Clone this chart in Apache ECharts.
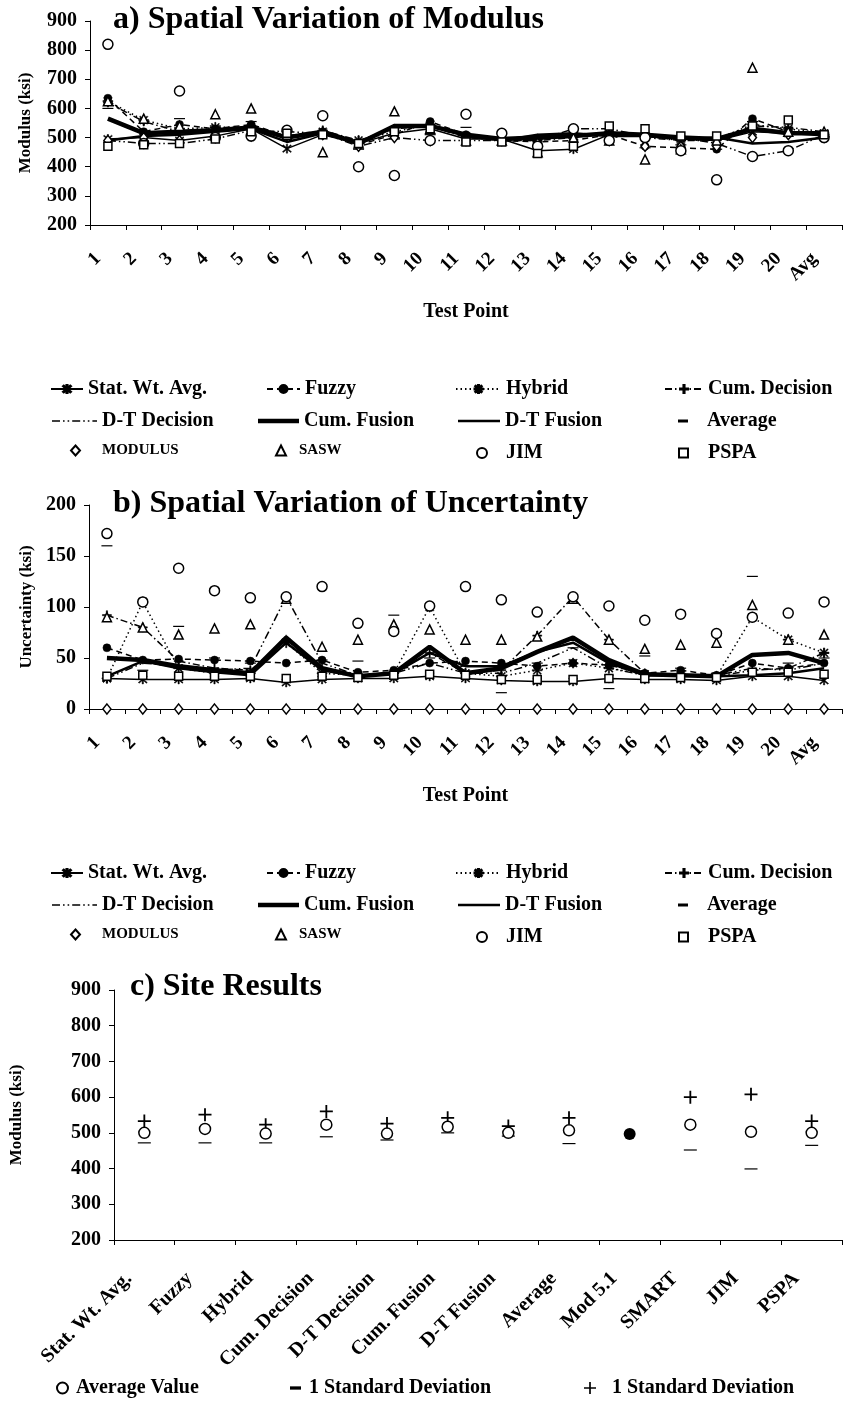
<!DOCTYPE html>
<html>
<head>
<meta charset="utf-8">
<title>Spatial Variation of Modulus / Uncertainty / Site Results</title>
<script src="https://cdn.jsdelivr.net/npm/echarts@6/dist/echarts.min.js"></script>
<style>
    html, body { margin: 0; padding: 0; background: #fff; }
    #chart { width: 843px; height: 1404px; }
</style>
</head>
<body>
<div id="chart"></div>

<script type="text/javascript">

    // ---- data ----
    var testPoints = ['1','2','3','4','5','6','7','8','9','10','11','12','13','14','15','16','17','18','19','20','Avg'];

    // a) modulus, ksi
    var modStat    = [495,500,490,505,530,462,510,480,515,530,495,495,455,460,510,505,495,490,520,515,505];
    var modFuzzy   = [635,520,545,530,545,505,520,475,510,555,510,490,485,490,510,470,465,460,565,520,510];
    var modHybrid  = [625,560,530,535,535,500,520,490,520,545,505,495,495,505,515,505,490,495,545,530,515];
    var modCumDec  = [620,555,520,525,540,505,525,490,530,540,500,490,490,500,520,500,490,490,540,535,520];
    var modDtDec   = [490,480,480,495,525,520,515,470,500,490,490,490,490,530,530,505,500,480,435,455,510];
    var modCumFus  = [565,515,520,525,535,500,520,480,540,540,510,495,500,505,515,510,500,495,530,515,515];
    var modDtFus   = [490,505,510,520,530,485,515,485,535,540,505,490,510,515,505,505,495,500,480,485,500];
    var modAvg     = [600,520,565,540,555,520,510,460,495,510,535,500,470,510,515,465,475,460,555,515,510];
    var modModulus = [490,500,490,500,505,520,510,470,500,490,490,490,480,520,490,470,470,470,500,510,500];
    var modSasw    = [625,565,540,580,600,510,450,480,590,530,490,490,450,500,490,425,460,490,740,520,520];
    var modJim     = [820,480,660,500,505,525,575,400,370,490,580,515,470,530,490,500,455,355,435,455,500];
    var modPspa    = [470,475,480,495,520,515,510,480,520,530,485,485,445,470,540,530,505,505,540,560,510];

    // b) uncertainty, ksi
    var uncStat    = [30,29,29,29,30,26,29,30,30,32,30,28,27,27,30,29,29,28,32,32,28];
    var uncFuzzy   = [60,48,49,48,47,45,48,36,38,45,47,45,42,45,43,35,38,33,45,40,45];
    var uncHybrid  = [30,105,40,35,35,65,35,33,35,100,35,32,38,45,40,34,33,32,90,68,55];
    var uncCumDec  = [92,80,47,40,38,68,40,33,35,55,35,38,72,110,68,35,34,32,38,40,55];
    var uncDtDec   = [30,45,42,38,40,110,45,33,35,45,35,35,45,60,40,33,33,33,40,38,45];
    var uncCumFus  = [50,48,42,38,35,70,40,32,35,61,35,40,56,70,48,34,33,32,53,55,45];
    var uncDtFus   = [32,47,40,36,33,65,38,32,35,55,42,42,56,65,45,33,33,32,33,35,40];
    var uncAvg     = [160,38,81,50,45,65,48,47,92,50,42,16,45,60,20,52,40,35,130,45,50];
    var uncModulus = [0,0,0,0,0,0,0,0,0,0,0,0,0,0,0,0,0,0,0,0,0];
    var uncSasw    = [90,80,73,79,83,108,61,68,83,78,68,68,71,108,68,59,63,65,102,68,73];
    var uncJim     = [172,105,138,116,109,110,120,84,76,101,120,107,95,110,101,87,93,74,90,94,105];
    var uncPspa    = [32,33,32,32,32,30,32,31,33,34,33,29,29,29,30,30,31,31,36,36,34];

    // c) site results, ksi
    var siteCats   = ['Stat. Wt. Avg.','Fuzzy','Hybrid','Cum. Decision','D-T Decision','Cum. Fusion','D-T Fusion','Average','Mod 5.1','SMART','JIM','PSPA'];
    var siteAvg    = [500,511,498,523,498,517,500,507,null,523,503,500];
    var siteMod    = [null,null,null,null,null,null,null,null,497,null,null,null];
    var siteMinus  = [472,472,472,489,480,500,491,470,null,452,399,465];
    var sitePlus   = [533,551,523,560,526,542,519,542,null,600,608,533];

    var modTicks = [200,300,400,500,600,700,800,900];
    var uncTicks = [0,50,100,150,200];

    // ---- looks ----
    var SERIF = '"Liberation Serif", "Times New Roman", serif';
    var STAR6 = 'path://M4.4,0H5.6V10H4.4Z M0.8,1.6L1.6,0.8L9.2,8.4L8.4,9.2Z M8.4,0.8L9.2,1.6L1.6,9.2L0.8,8.4Z';
    var STAR8 = STAR6 + ' M0,4.4H10V5.6H0Z';
    var PLUS  = 'path://M4.3,0H5.7V4.3H10V5.7H5.7V10H4.3V5.7H0V4.3H4.3Z';
    var DASH  = 'path://M0,0H10V3H0Z';
    // legend icons for the series drawn without markers
    var ICON_DTDEC  = 'path://M0,0H8V1.6H0Z M11,0H12.6V1.6H11Z M15.6,0H17.2V1.6H15.6Z M20.2,0H28.2V1.6H20.2Z M31.2,0H32.8V1.6H31.2Z M35.8,0H37.4V1.6H35.8Z M40.4,0H45V1.6H40.4Z';
    var ICON_CUMFUS = 'path://M0,0H41V4.5H0Z';
    var ICON_DTFUS  = 'path://M0,0H42V2.6H0Z';

    var methodNames = ['Stat. Wt. Avg.','Fuzzy','Hybrid','Cum. Decision','D-T Decision','Cum. Fusion','D-T Fusion'];
    var markNames = ['Average','MODULUS','SASW','JIM','PSPA'];

    var lineLook = [
        {symbol: STAR6, size: 9, width: 1.5, dash: 'solid'},
        {symbol: 'circle', size: 8, width: 1.5, dash: [6, 4]},
        {symbol: STAR8, size: 10, width: 1.5, dash: [1.5, 3]},
        {symbol: PLUS, size: 9, width: 1.5, dash: [7, 3, 1.5, 3]},
        {symbol: 'none', size: 0, width: 1.5, dash: [8, 3, 1.5, 3, 1.5, 3]},
        {symbol: 'none', size: 0, width: 4.5, dash: 'solid'},
        {symbol: 'none', size: 0, width: 2.5, dash: 'solid'}
    ];
    var markLook = [
        {symbol: DASH, size: [11, 4], fill: '#000'},
        {symbol: 'diamond', size: [8, 10], fill: '#fff'},
        {symbol: 'triangle', size: 9, fill: '#fff'},
        {symbol: 'circle', size: 10, fill: '#fff'},
        {symbol: 'rect', size: 8, fill: '#fff'}
    ];

    function panelSeries(lines, marks, idx) {
        var out = [];
        lines.forEach(function (d, i) {
            var lk = lineLook[i];
            out.push({
                name: methodNames[i], type: 'line', xAxisIndex: idx, yAxisIndex: idx,
                data: d, symbol: lk.symbol, symbolSize: lk.size, showSymbol: lk.symbol !== 'none',
                showAllSymbol: true, z: 2,
                itemStyle: {color: '#000', borderColor: '#000', borderWidth: 0.5},
                lineStyle: {color: '#000', width: lk.width, type: lk.dash}
            });
        });
        marks.forEach(function (d, i) {
            var mk = markLook[i];
            out.push({
                name: markNames[i], type: 'scatter', xAxisIndex: idx, yAxisIndex: idx,
                data: d, symbol: mk.symbol, symbolSize: mk.size, symbolKeepAspect: true, z: 3,
                itemStyle: {color: mk.fill, borderColor: '#000', borderWidth: mk.fill === '#fff' ? 1.5 : 0, opacity: 1}
            });
        });
        return out;
    }

    var series = []
        .concat(panelSeries([modStat, modFuzzy, modHybrid, modCumDec, modDtDec, modCumFus, modDtFus],
                            [modAvg, modModulus, modSasw, modJim, modPspa], 0))
        .concat(panelSeries([uncStat, uncFuzzy, uncHybrid, uncCumDec, uncDtDec, uncCumFus, uncDtFus],
                            [uncAvg, uncModulus, uncSasw, uncJim, uncPspa], 1))
        .concat([
            {name: 'Average Value', type: 'scatter', xAxisIndex: 2, yAxisIndex: 2, data: siteAvg,
             symbol: 'circle', symbolSize: 11, z: 3,
             itemStyle: {color: '#fff', borderColor: '#000', borderWidth: 1.5, opacity: 1}},
            {name: 'Mod 5.1', type: 'scatter', xAxisIndex: 2, yAxisIndex: 2, data: siteMod,
             symbol: 'circle', symbolSize: 12, z: 3, itemStyle: {color: '#000', opacity: 1}},
            {name: '- 1 Standard Deviation', type: 'scatter', xAxisIndex: 2, yAxisIndex: 2, data: siteMinus,
             symbol: DASH, symbolSize: [13, 4], symbolKeepAspect: true, z: 2, itemStyle: {color: '#000', opacity: 1}},
            {name: '+ 1 Standard Deviation', type: 'scatter', xAxisIndex: 2, yAxisIndex: 2, data: sitePlus,
             symbol: PLUS, symbolSize: 13, z: 2, itemStyle: {color: '#000', opacity: 1}}
        ]);

    // ---- legends: one component per entry so the columns line up ----
    function leg(name, left, top, w, h, fs, padLeft, icon) {
        var l = {
            data: [icon ? {name: name, icon: icon} : name],
            left: left, top: top, itemWidth: w, itemHeight: h, padding: 0,
            selectedMode: false, formatter: function (n) { return n.replace(/^[-+] /, ''); },
            textStyle: {fontFamily: SERIF, fontWeight: 'bold', fontSize: fs, color: '#000', padding: [0, 0, 0, padLeft]}
        };
        if (icon) {
            l.itemStyle = {color: '#000', borderWidth: 0};
        }
        return l;
    }
    function legendBlock(r1, r2, r3) {
        return [
            leg('Stat. Wt. Avg.', 50, r1, 32, 10, 20, 0),
            leg('Fuzzy', 266, r1, 33, 10, 20, 0),
            leg('Hybrid', 455, r1, 45, 10, 20, 0),
            leg('Cum. Decision', 664, r1, 38, 10, 20, 0),
            leg('D-T Decision', 52, r2, 45, 10, 20, 0, ICON_DTDEC),
            leg('Cum. Fusion', 258, r2, 41, 10, 20, 0, ICON_CUMFUS),
            leg('D-T Fusion', 458, r2, 42, 10, 20, 0, ICON_DTFUS),
            leg('Average', 678, r2, 10, 4, 20, 14),
            leg('MODULUS', 70, r3, 9, 10, 15, 17),
            leg('SASW', 275, r3, 10, 10, 15, 8),
            leg('JIM', 476, r3, 10, 10, 20, 14),
            leg('PSPA', 678, r3, 9, 9, 20, 15)
        ];
    }
    var legends = []
        .concat(legendBlock(379, 411, 443))
        .concat(legendBlock(863, 895, 927))
        .concat([
            leg('Average Value', 56, 1378, 11, 11, 20, 3),
            leg('- 1 Standard Deviation', 290, 1378, 11, 4, 20, 3),
            leg('+ 1 Standard Deviation', 584, 1378, 12, 12, 20, 11)
        ]);

    // ---- axes ----
    var axisLineStyle = {show: true, onZero: false, lineStyle: {color: '#000', width: 1}};
    var tickStyle = {show: true, length: 5, lineStyle: {color: '#000', width: 1}};
    var boldText = {fontFamily: SERIF, fontWeight: 'bold', color: '#000'};

    function catAxis(idx, data, fs, pad, margin, name) {
        return {
            type: 'category', gridIndex: idx, data: data, boundaryGap: true,
            axisLine: axisLineStyle, axisTick: tickStyle,
            axisLabel: Object.assign({rotate: 45, interval: 0, fontSize: fs, margin: margin, padding: [0, pad, 0, 0]}, boldText),
            name: name, nameLocation: 'middle', nameGap: 77,
            nameTextStyle: Object.assign({fontSize: 20}, boldText)
        };
    }
    function valAxis(idx, ticks, name, gap) {
        return {
            type: 'value', gridIndex: idx, min: ticks[0], max: ticks[ticks.length - 1],
            interval: ticks[1] - ticks[0],
            splitLine: {show: false}, axisLine: axisLineStyle, axisTick: tickStyle,
            axisLabel: Object.assign({fontSize: 20, margin: 13}, boldText),
            name: name, nameLocation: 'middle', nameGap: gap,
            nameTextStyle: Object.assign({fontSize: 17}, boldText)
        };
    }

    var titleStyle = Object.assign({fontSize: 32}, boldText);

    var option = {
        backgroundColor: '#fff',
        animation: false,
        title: [
            {text: 'a) Spatial Variation of Modulus', left: 113, top: 4, padding: 0, textStyle: titleStyle},
            {text: 'b) Spatial Variation of Uncertainty', left: 113, top: 488, padding: 0, textStyle: titleStyle},
            {text: 'c) Site Results', left: 130, top: 971, padding: 0, textStyle: titleStyle}
        ],
        legend: legends,
        grid: [
            {left: 90, top: 21, width: 752, height: 204},
            {left: 89, top: 505, width: 753, height: 204},
            {left: 110, top: 990, width: 732, height: 250}
        ],
        xAxis: [
            catAxis(0, testPoints, 19, 14, 21, 'Test Point'),
            catAxis(1, testPoints, 19, 14, 21, 'Test Point'),
            catAxis(2, siteCats, 20, 22, 20, '')
        ],
        yAxis: [
            valAxis(0, modTicks, 'Modulus (ksi)', 56),
            valAxis(1, uncTicks, 'Uncertainty (ksi)', 52),
            valAxis(2, modTicks, 'Modulus (ksi)', 89)
        ],
        series: series
    };

    var myChart = echarts.init(document.getElementById('chart'));
    myChart.setOption(option);
    window.onresize = function () {
        myChart.resize();
    };

</script>
</body>
</html>
